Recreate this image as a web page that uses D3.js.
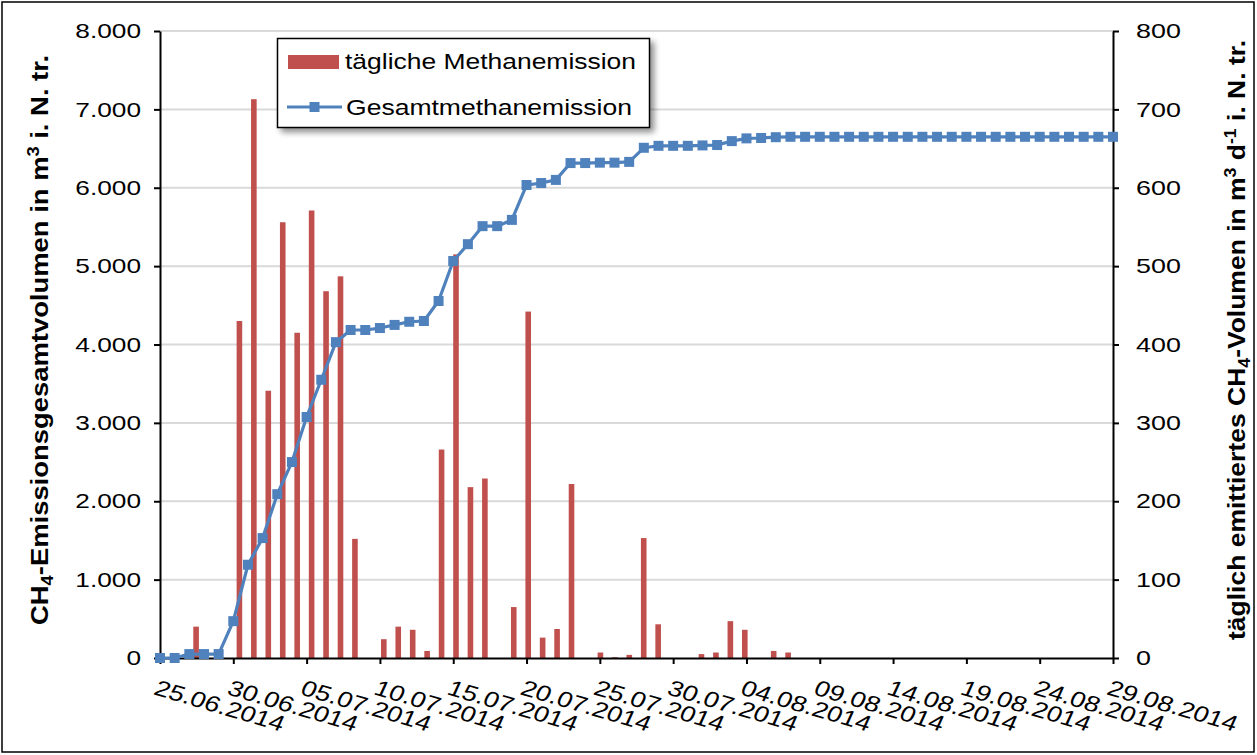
<!DOCTYPE html>
<html>
<head>
<meta charset="utf-8">
<script src="https://cdn.jsdelivr.net/npm/d3@7"></script>
<style>
  html, body { margin: 0; padding: 0; background: #fff; }
  svg { display: block; font-family: Arial, "Liberation Sans", sans-serif; }
</style>
</head>
<body>
<svg id="chart" width="1257" height="755"></svg>
<script>
// ---- data (day index 0 = 25.06.2014 ... 65 = 29.08.2014) ----
const dayIndex = d3.range(0, 66);
const dailyEmission = [
  0, 0, 40, 0, 0, 430, 713, 341, 556, 415,
  571, 468, 487, 152, 0, 24, 40, 36, 9, 266,
  515, 218, 229, 0, 65, 442, 26, 37, 222, 0,
  7, 1, 4, 153, 43, 0, 0, 5, 7, 47,
  36, 0, 9, 7, 0, 0, 0, 0, 0, 0,
  0, 0, 0, 0, 0, 0, 0, 0, 0, 0,
  0, 0, 0, 0, 0, 0
];
const totalEmission = [
  0, 0, 50, 50, 50, 470, 1190, 1530, 2090, 2500,
  3075, 3550, 4030, 4185, 4185, 4210, 4250, 4290, 4300, 4555,
  5065, 5280, 5510, 5510, 5590, 6035, 6060, 6100, 6315, 6315,
  6320, 6320, 6330, 6510, 6535, 6535, 6535, 6540, 6545, 6595,
  6630, 6635, 6645, 6650, 6650, 6650, 6650, 6650, 6650, 6650,
  6650, 6650, 6650, 6650, 6650, 6650, 6650, 6650, 6650, 6650,
  6650, 6650, 6650, 6650, 6650, 6650
];
const xTickDays = [0, 5, 10, 15, 20, 25, 30, 35, 40, 45, 50, 55, 60, 65];
const xTickLabels = ["25.06.2014", "30.06.2014", "05.07.2014", "10.07.2014", "15.07.2014",
  "20.07.2014", "25.07.2014", "30.07.2014", "04.08.2014", "09.08.2014", "14.08.2014",
  "19.08.2014", "24.08.2014", "29.08.2014"];
const leftTicks = [0, 1000, 2000, 3000, 4000, 5000, 6000, 7000, 8000];
const rightTicks = [0, 100, 200, 300, 400, 500, 600, 700, 800];
const legendLabels = ["tägliche Methanemission", "Gesamtmethanemission"];

// ---- layout ----
const svg = d3.select("#chart");
const plot = { left: 160, right: 1113, top: 31, bottom: 658 };
const barColor = "#C0504D", lineColor = "#4F81BD";

const yL = d3.scaleLinear().domain([0, 8000]).range([plot.bottom, plot.top]);
const yR = d3.scaleLinear().domain([0, 800]).range([plot.bottom, plot.top]);
const xLine = d3.scaleLinear().domain([0, 65]).range([plot.left, plot.right]);
const xBand = d3.scaleBand().domain(dayIndex).range([plot.left, plot.right]).paddingInner(0);
const de = d3.formatLocale({ decimal: ",", thousands: ".", grouping: [3], currency: ["", "€"] });
const fmt = de.format(",d");

// outer frame
svg.append("rect").attr("x", 2).attr("y", 2).attr("width", 1252).attr("height", 750)
  .attr("fill", "none").attr("stroke", "#000").attr("stroke-width", 1.5);

// gridlines
svg.append("g").selectAll("line").data(leftTicks.filter(d => d > 0)).join("line")
  .attr("x1", plot.left).attr("x2", plot.right)
  .attr("y1", d => yL(d)).attr("y2", d => yL(d))
  .attr("stroke", "#D9D9D9").attr("stroke-width", 2);

// bars
const barW = 5.6;
svg.append("g").selectAll("rect").data(dayIndex.filter(i => dailyEmission[i] > 0)).join("rect")
  .attr("x", i => xBand(i) + xBand.bandwidth() / 2 - barW / 2)
  .attr("width", barW)
  .attr("y", i => yR(dailyEmission[i]))
  .attr("height", i => yR(0) - yR(dailyEmission[i]))
  .attr("fill", barColor);

// axes
function styleAxis(g) {
  g.select(".domain").attr("stroke", "#000").attr("stroke-width", 2);
  g.selectAll(".tick line").attr("stroke", "#000").attr("stroke-width", 2);
  g.selectAll(".tick text").attr("fill", "#000").attr("font-size", 21)
    .attr("font-family", "Arial, 'Liberation Sans', sans-serif");
}
const axL = svg.append("g").attr("transform", `translate(${plot.left},0)`)
  .call(d3.axisLeft(yL).tickValues(leftTicks).tickFormat(fmt).tickSize(6).tickSizeOuter(0));
styleAxis(axL);
axL.selectAll(".tick text").attr("x", 0).attr("transform", "translate(-19,0) scale(1.25,1)");
const axR = svg.append("g").attr("transform", `translate(${plot.right},0)`)
  .call(d3.axisRight(yR).tickValues(rightTicks).tickFormat(d3.format("d")).tickSize(6).tickSizeOuter(0));
styleAxis(axR);
axR.selectAll(".tick text").attr("x", 0).attr("transform", "translate(23,0) scale(1.28,1)");
const axB = svg.append("g").attr("transform", `translate(0,${plot.bottom})`)
  .call(d3.axisBottom(xLine).tickValues(xTickDays).tickFormat((d, i) => xTickLabels[i]).tickSize(6).tickSizeOuter(0));
styleAxis(axB);
axB.selectAll(".tick text")
  .attr("x", 0).attr("y", 0).attr("dy", 0)
  .attr("font-size", 22)
  .attr("text-anchor", "start")
  .attr("transform", "translate(-8,36) scale(1.24,1) rotate(20)");

// line + markers
const line = d3.line().x(i => xLine(i)).y(i => yL(totalEmission[i]));
svg.append("path").datum(dayIndex).attr("d", line)
  .attr("fill", "none").attr("stroke", lineColor).attr("stroke-width", 3.2).attr("stroke-linejoin", "round");
const mk = 10;
svg.append("g").selectAll("rect").data(dayIndex).join("rect")
  .attr("x", i => xLine(i) - mk / 2).attr("y", i => yL(totalEmission[i]) - mk / 2)
  .attr("width", mk).attr("height", mk).attr("fill", lineColor);

// axis titles
const tL = svg.append("text")
  .attr("font-size", 24).attr("font-weight", "bold").attr("text-anchor", "middle")
  .attr("transform", "translate(48,340) rotate(-90)");
tL.append("tspan").text("CH");
tL.append("tspan").attr("font-size", 16).attr("dy", 5).text("4");
tL.append("tspan").attr("dy", -5).text("-Emissionsgesamtvolumen in m");
tL.append("tspan").attr("font-size", 16).attr("dy", -9).text("3");
tL.append("tspan").attr("dy", 9).text(" i. N. tr.");
tL.attr("textLength", 570).attr("lengthAdjust", "spacingAndGlyphs");

const tR = svg.append("text")
  .attr("font-size", 24).attr("font-weight", "bold").attr("text-anchor", "middle")
  .attr("transform", "translate(1245,340) rotate(-90)");
tR.append("tspan").text("täglich emittiertes CH");
tR.append("tspan").attr("font-size", 16).attr("dy", 5).text("4");
tR.append("tspan").attr("dy", -5).text("-Volumen in m");
tR.append("tspan").attr("font-size", 16).attr("dy", -9).text("3");
tR.append("tspan").attr("dy", 9).text(" d");
tR.append("tspan").attr("font-size", 16).attr("dy", -9).text("-1");
tR.append("tspan").attr("dy", 9).text(" i. N. tr.");
tR.attr("textLength", 600).attr("lengthAdjust", "spacingAndGlyphs");

// legend
const defs = svg.append("defs");
const f = defs.append("filter").attr("id", "shadow").attr("x", "-10%").attr("y", "-10%").attr("width", "130%").attr("height", "140%");
f.append("feGaussianBlur").attr("in", "SourceAlpha").attr("stdDeviation", 3);
f.append("feOffset").attr("dx", 4).attr("dy", 4).attr("result", "ob");
f.append("feComponentTransfer").append("feFuncA").attr("type", "linear").attr("slope", 0.45);
const fm = f.append("feMerge");
fm.append("feMergeNode");
fm.append("feMergeNode").attr("in", "SourceGraphic");

const lg = svg.append("g");
lg.append("rect").attr("x", 277.5).attr("y", 38.5).attr("width", 372).attr("height", 89)
  .attr("fill", "#fff").attr("stroke", "#000").attr("stroke-width", 1.5).attr("filter", "url(#shadow)");
lg.append("rect").attr("x", 288).attr("y", 55).attr("width", 51).attr("height", 14).attr("fill", barColor);
lg.append("line").attr("x1", 287).attr("x2", 342).attr("y1", 107).attr("y2", 107)
  .attr("stroke", lineColor).attr("stroke-width", 3.2);
lg.append("rect").attr("x", 314.5 - mk / 2).attr("y", 107 - mk / 2).attr("width", mk).attr("height", mk).attr("fill", lineColor);
lg.append("text").attr("x", 345).attr("y", 69).attr("font-size", 21.5)
  .attr("textLength", 291).attr("lengthAdjust", "spacingAndGlyphs").text(legendLabels[0]);
lg.append("text").attr("x", 346).attr("y", 115).attr("font-size", 21.5)
  .attr("textLength", 286).attr("lengthAdjust", "spacingAndGlyphs").text(legendLabels[1]);
</script>
</body>
</html>
